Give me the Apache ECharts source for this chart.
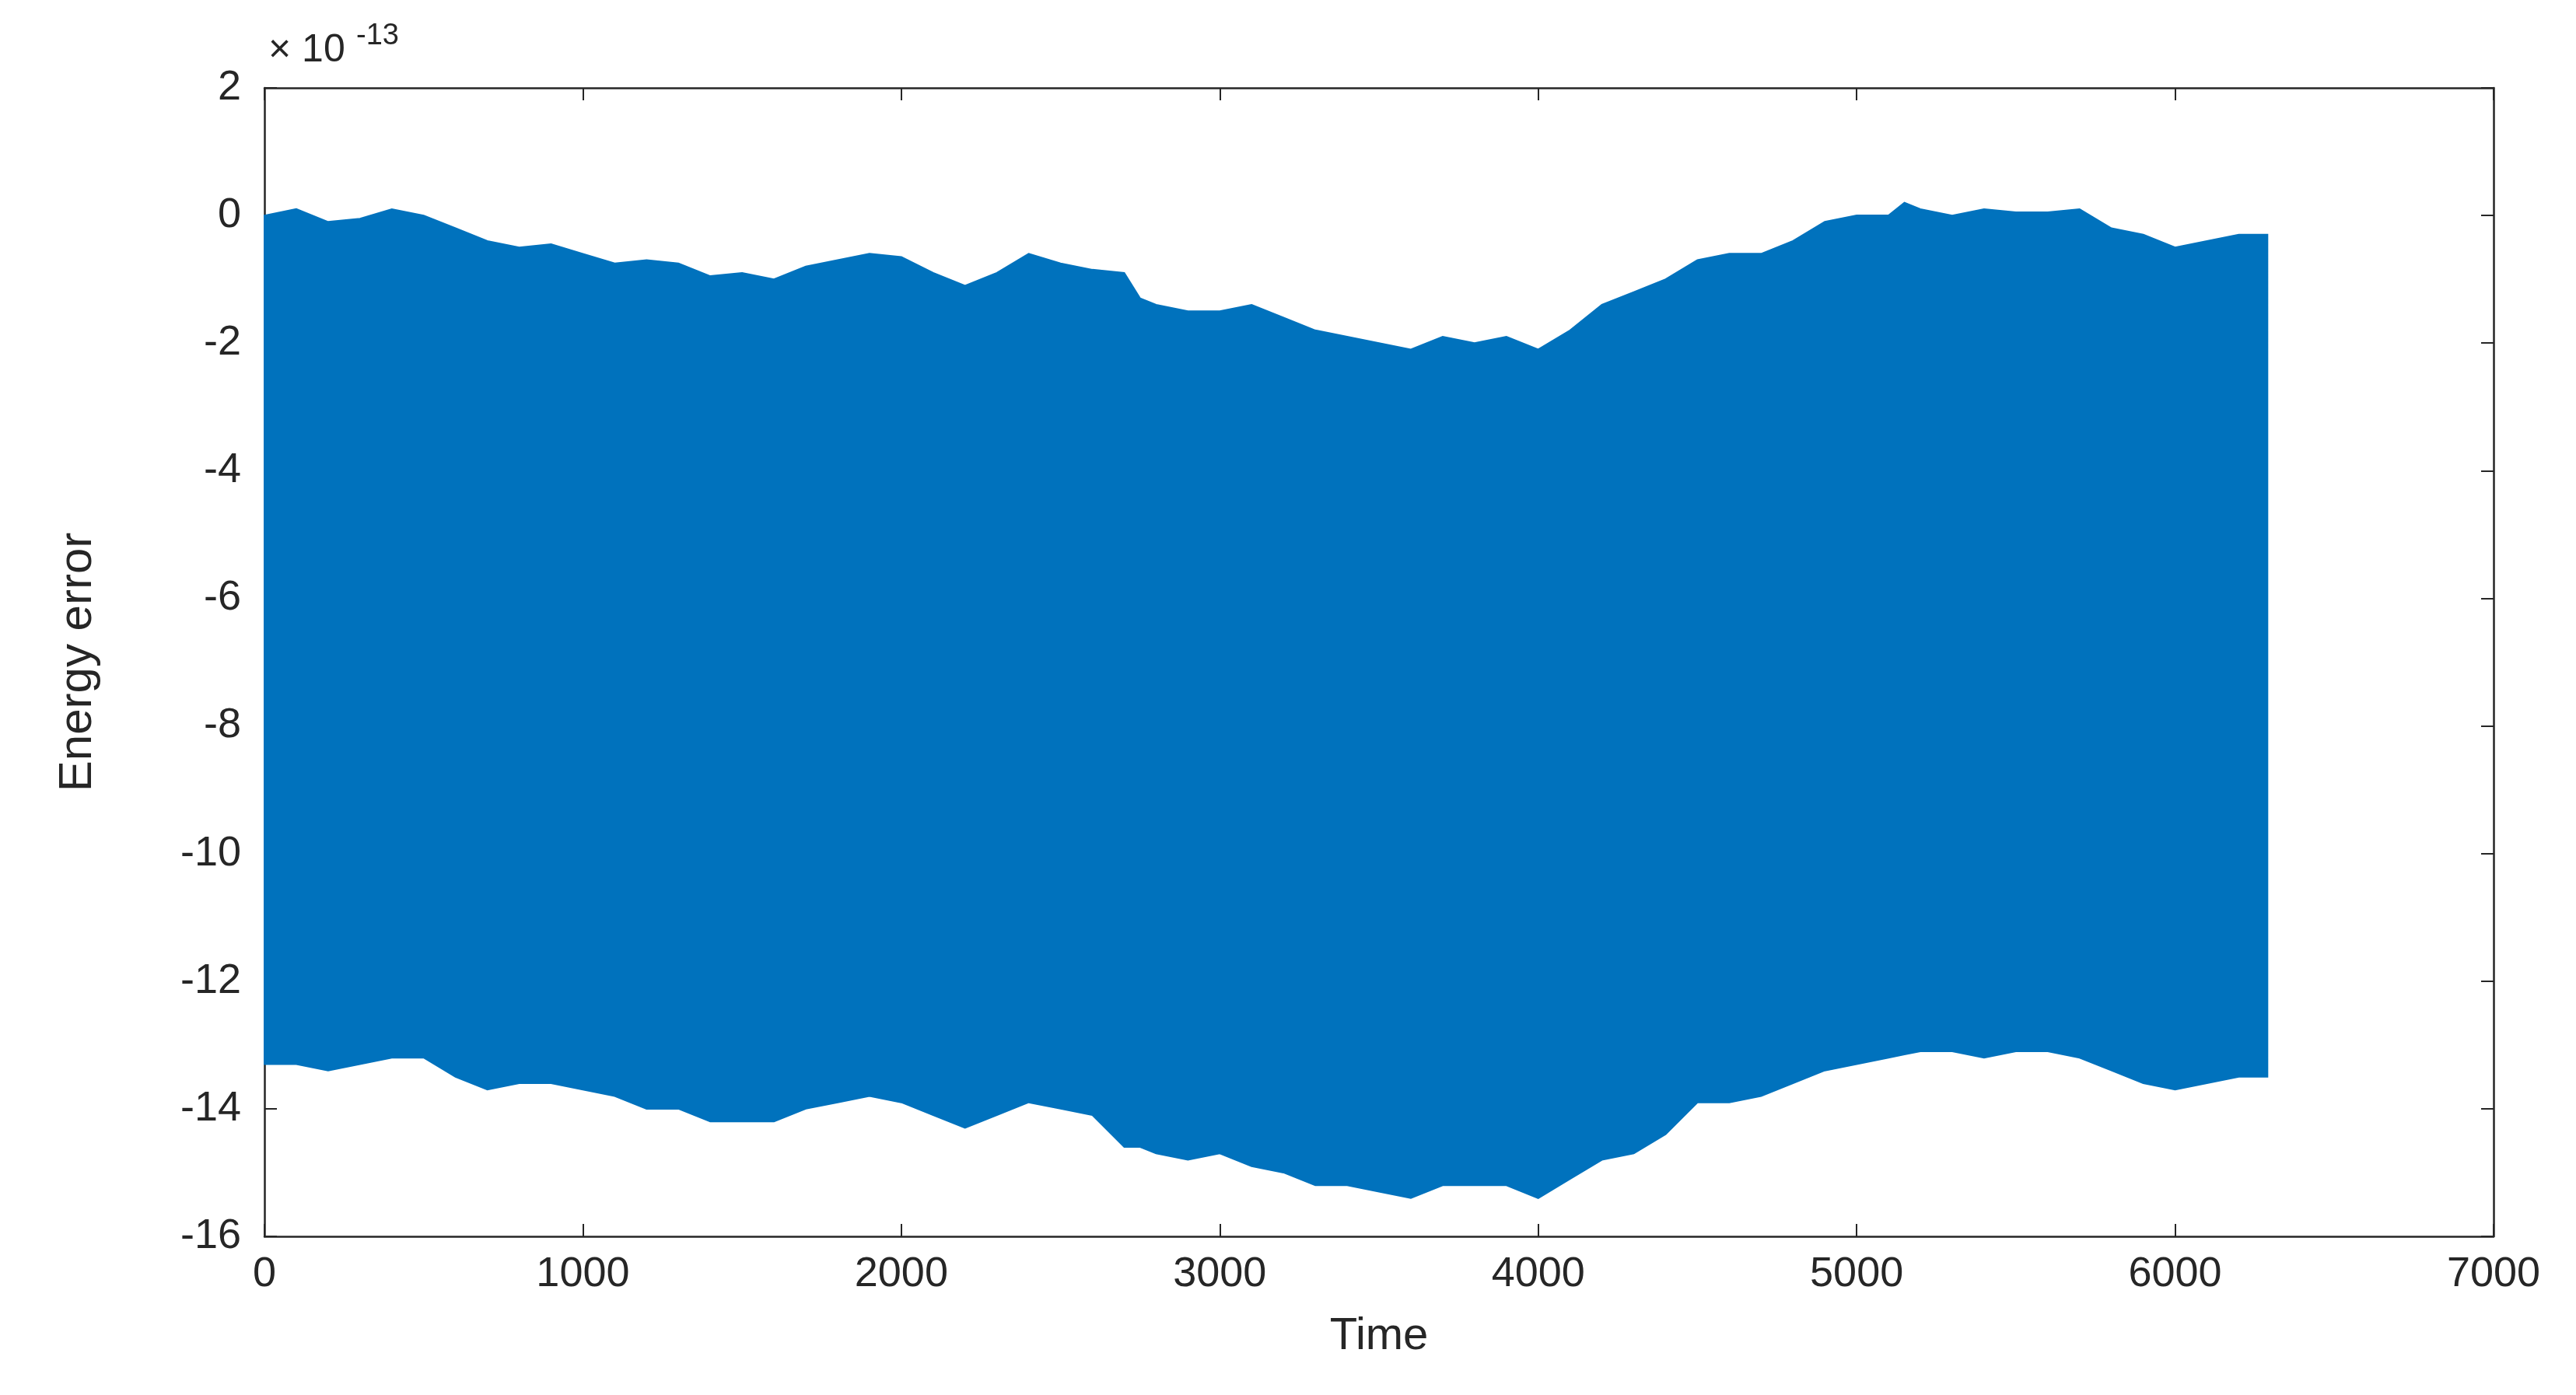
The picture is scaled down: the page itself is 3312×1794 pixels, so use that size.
<!DOCTYPE html>
<html>
<head>
<meta charset="UTF-8">
<script src="https://cdn.jsdelivr.net/npm/echarts@6/dist/echarts.min.js"></script>
<style>html,body{margin:0;background:#fff}#container{width:3312px;height:1794px}</style>
</head>
<body>
<div id="container"></div>
<script>
// time samples and envelopes of the energy error (units of 1e-13)
var times = [0,100,200,300,400,500,600,700,800,900,1000,1100,1200,1300,1400,1500,1600,1700,1800,1900,
  2000,2100,2200,2300,2400,2500,2600,2700,2750,2800,2900,3000,3100,3200,3300,3400,3500,3600,3700,3800,3900,
  4000,4100,4200,4300,4400,4500,4600,4700,4800,4900,5000,5100,5150,5200,5300,5400,5500,5600,5700,5800,5900,
  6000,6100,6200,6290];
var upper = [0,0.1,-0.1,-0.05,0.1,0,-0.2,-0.4,-0.5,-0.45,-0.6,-0.75,-0.7,-0.75,-0.95,-0.9,-1.0,-0.8,-0.7,-0.6,
  -0.65,-0.9,-1.1,-0.9,-0.6,-0.75,-0.85,-0.9,-1.3,-1.4,-1.5,-1.5,-1.4,-1.6,-1.8,-1.9,-2.0,-2.1,-1.9,-2.0,-1.9,
  -2.1,-1.8,-1.4,-1.2,-1.0,-0.7,-0.6,-0.6,-0.4,-0.1,0,0,0.2,0.1,0,0.1,0.05,0.05,0.1,-0.2,-0.3,
  -0.5,-0.4,-0.3,-0.3];
var lower = [-13.3,-13.3,-13.4,-13.3,-13.2,-13.2,-13.5,-13.7,-13.6,-13.6,-13.7,-13.8,-14.0,-14.0,-14.2,-14.2,-14.2,-14.0,-13.9,-13.8,
  -13.9,-14.1,-14.3,-14.1,-13.9,-14.0,-14.1,-14.6,-14.6,-14.7,-14.8,-14.7,-14.9,-15.0,-15.2,-15.2,-15.3,-15.4,-15.2,-15.2,-15.2,
  -15.4,-15.1,-14.8,-14.7,-14.4,-13.9,-13.9,-13.8,-13.6,-13.4,-13.3,-13.2,-13.15,-13.1,-13.1,-13.2,-13.1,-13.1,-13.2,-13.4,-13.6,
  -13.7,-13.6,-13.5,-13.5];

var rows = times.map(function(t, i){ return [t, upper[i], lower[i]]; });

var myChart = echarts.init(document.getElementById('container'));
var font = 'Liberation Sans';
var tickStyle = {show: true, inside: true, length: 16, lineStyle: {color: '#262626', width: 2}};
var lineStyle = {show: true, onZero: false, lineStyle: {color: '#262626', width: 2.5}};
option = {
  animation: false,
  backgroundColor: '#fff',
  grid: {left: 340, right: 106, top: 113, bottom: 204},
  graphic: [{type: 'text', left: 345, top: 40,
    style: {text: '× 10', font: '50px "Liberation Sans"', fill: '#262626'}},
    {type: 'text', left: 458, top: 28,
    style: {text: '-13', font: '38px "Liberation Sans"', fill: '#262626'}}],
  xAxis: [
    {type: 'value', min: 0, max: 7000, interval: 1000, axisLine: lineStyle, axisTick: tickStyle,
     splitLine: {show: false},
     axisLabel: {fontSize: 54, fontFamily: font, color: '#262626', margin: 22, formatter: function(v){ return String(v); }},
     name: 'Time', nameLocation: 'middle', nameGap: 100,
     nameTextStyle: {fontSize: 58, fontFamily: font, color: '#262626'}},
    {type: 'value', position: 'top', min: 0, max: 7000, interval: 1000, axisLine: lineStyle,
     axisTick: tickStyle, axisLabel: {show: false}, splitLine: {show: false}}
  ],
  yAxis: [
    {type: 'value', min: -16, max: 2, interval: 2, axisLine: lineStyle, axisTick: tickStyle,
     splitLine: {show: false}, axisLabel: {fontSize: 54, fontFamily: font, color: '#262626', margin: 30},
     name: 'Energy error', nameLocation: 'middle', nameGap: 210,
     nameTextStyle: {fontSize: 60, fontFamily: font, color: '#262626'}},
    {type: 'value', position: 'right', min: -16, max: 2, interval: 2, axisLine: lineStyle,
     axisTick: tickStyle, axisLabel: {show: false}, splitLine: {show: false}}
  ],
  series: [{
    type: 'custom', xAxisIndex: 0, yAxisIndex: 0, data: rows, z: 1,
    renderItem: function(params, api){
      if (params.dataIndex !== 0) return;
      var pts = [];
      rows.forEach(function(r){ pts.push(api.coord([r[0], r[1]])); });
      for (var i = rows.length - 1; i >= 0; i--) pts.push(api.coord([rows[i][0], rows[i][2]]));
      return {type: 'polygon', shape: {points: pts}, style: {fill: '#0072BD', stroke: '#0072BD', lineWidth: 2}};
    }
  }]
};
myChart.setOption(option, true);
</script>
</body>
</html>
